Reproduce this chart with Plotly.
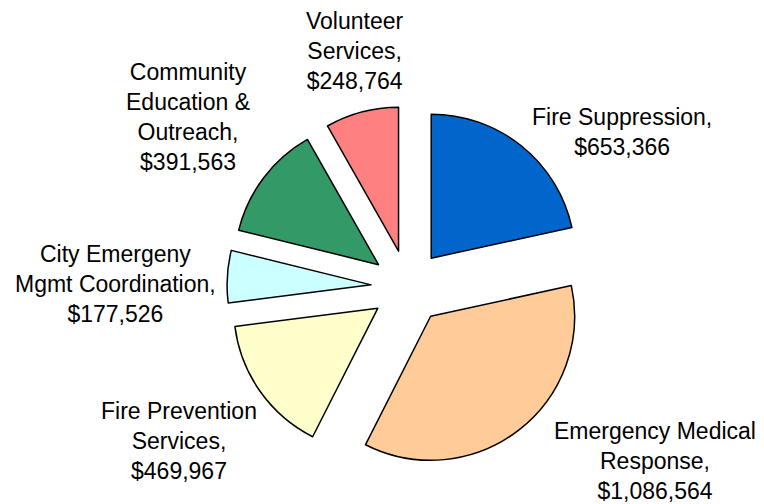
import plotly.graph_objects as go

# Budget by program (USD)
programs = [
    "Fire Suppression",
    "Emergency Medical Response",
    "Fire Prevention Services",
    "City Emergeny Mgmt Coordination",
    "Community Education & Outreach",
    "Volunteer Services",
]
amounts = [653366, 1086564, 469967, 177526, 391563, 248764]

# How each category name wraps in its label
label_lines = [
    ["Fire Suppression,"],
    ["Emergency Medical", "Response,"],
    ["Fire Prevention", "Services,"],
    ["City Emergeny", "Mgmt Coordination,"],
    ["Community", "Education &", "Outreach,"],
    ["Volunteer", "Services,"],
]

colors = ["#0066CC", "#FFCC99", "#FFFFCC", "#CCFFFF", "#339966", "#FF8080"]

W, H = 764, 504

# label anchor centres in pixels (x from left, y from top)
label_pos = [(622, 132), (655, 461), (179, 441), (115, 284), (188, 117), (355, 51)]

fig = go.Figure(
    go.Pie(
        labels=programs,
        values=amounts,
        sort=False,
        direction="clockwise",
        rotation=0,
        pull=[0.257] * len(amounts),
        marker=dict(colors=colors, line=dict(color="black", width=1.5)),
        textinfo="none",
        hoverinfo="label+value+percent",
        domain=dict(x=[227 / W, 589 / W], y=[36 / H, 398 / H]),
    )
)

for lines, val, (px, py) in zip(label_lines, amounts, label_pos):
    text = "<br>".join(lines + [f"${val:,}"])
    fig.add_annotation(
        x=px / W,
        y=1 - py / H,
        xref="paper",
        yref="paper",
        text=text,
        showarrow=False,
        align="center",
        xanchor="center",
        yanchor="middle",
        font=dict(family="Arial, Liberation Sans, sans-serif", size=23, color="black"),
    )

fig.update_layout(
    width=W,
    height=H,
    margin=dict(l=0, r=0, t=0, b=0),
    paper_bgcolor="white",
    plot_bgcolor="white",
    showlegend=False,
)

fig.write_html("out.html")
